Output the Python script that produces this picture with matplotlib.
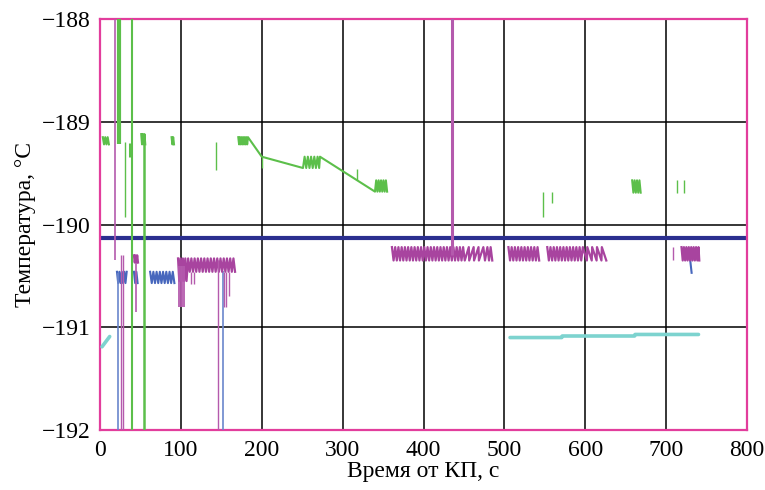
import numpy as np
import matplotlib.pyplot as plt

nan = np.nan

# --- green channel: zigzag blocks and connecting trend ---
green_x = [3.5, 5, 6.5, 8, 9.5, 11, nan,
           51, 52, 53, 54, 55, 56, nan,
           88.5, 89.5, 90.5, 91.5, nan,
           171, 172, 173, 174, 175, 176, 177, 178, 179, 180, 181, 182, 183,
           200, 251, 253, 255, 257, 259, 261, 263, 265, 267, 269, 271, 272,
           318, 340, 341.5, 343, 344.5, 346, 347.5, 349, 350.5, 352, 353.5, 355, nan,
           658, 659.5, 661, 662.5, 664, 665.5, 667, 668.5]
green_y = [-189.15, -189.22, -189.15, -189.22, -189.15, -189.22, nan,
           -189.12, -189.22, -189.12, -189.22, -189.12, -189.22, nan,
           -189.15, -189.22, -189.15, -189.22, nan,
           -189.15, -189.22, -189.15, -189.22, -189.15, -189.22, -189.15, -189.22,
           -189.15, -189.22, -189.15, -189.22, -189.15,
           -189.34, -189.45, -189.34, -189.45, -189.34, -189.45, -189.34,
           -189.45, -189.34, -189.45, -189.34, -189.45, -189.34,
           -189.57, -189.68, -189.57, -189.68, -189.57, -189.68, -189.57, -189.68,
           -189.57, -189.68, -189.57, -189.68, nan,
           -189.57, -189.69, -189.57, -189.69, -189.57, -189.69, -189.57, -189.69]

# green vertical excursions
green_vx = [23.5, 31, 39, 37.5, 54, 143, 200, 318, 548, 559, 713, 722]
green_vtop = [-187.9, -189.2, -187.9, -189.21, -189.12, -189.2, -189.34, -189.46,
              -189.68, -189.68, -189.57, -189.57]
green_vbot = [-189.22, -189.93, -192.1, -189.34, -192.1, -189.47, -189.45, -189.57,
              -189.93, -189.79, -189.69, -189.69]

# --- magenta channel ---
mag_x = [42, 43, 44, 45, 46, 47, nan,
         96.5, 98, 99.5, 101, 102.5, 104, 105.5, 107, 109, 111, 113, 115, 117, 119,
         121, 123, 125, 127, 129, 131, 133, 135, 137, 139, 141, 143, 145, 147, 149,
         151, 153, 155, 157, 159, 161, 163, 165, 167, nan,
         361, 363, 365, 367, 369, 371, 373, 375, 377, 379, 381, 383, 385, 387, 389,
         391, 393, 395, 397, 399, 401, 403, 405, 407, 409, 411, 413, 415, 417, 419,
         421, 423, 425, 427, 429, 431, 433, 435, 437, 439, 441, 443, 445, 447, 449,
         451, 456, 456.5, 462, 462.5, 468, 468.5, 474, 476, 479, 481, 483, 485, nan,
         505, 507, 509, 511, 513, 515, 517, 519, 521, 523, 525, 527, 529, 531, 533,
         535, 537, 539, 541, 543, nan,
         553, 555, 557, 559, 561, 563, 565, 567, 569, 571, 573, 575, 577, 579, 581,
         583, 585, 587, 589, 591, 593, 595, 597, 602, 602.5, 608, 608.5, 614, 614.5,
         620, 620.5, 626, nan,
         719, 720.5, 722, 723.5, 725, 726.5, 728, 729.5, 731, 732.5, 734, 735.5, 737,
         738.5, 740, 741]
mag_y = [-190.3, -190.37, -190.3, -190.37, -190.3, -190.37, nan,
         -190.33, -190.55, -190.33, -190.55, -190.33, -190.55, -190.33, -190.55,
         -190.33, -190.46, -190.33, -190.46, -190.33, -190.46, -190.33, -190.46,
         -190.33, -190.46, -190.33, -190.46, -190.33, -190.46, -190.33, -190.46,
         -190.33, -190.46, -190.33, -190.46, -190.33, -190.46, -190.33, -190.46,
         -190.33, -190.46, -190.33, -190.46, -190.33, -190.46, nan,
         -190.22, -190.35, -190.22, -190.35, -190.22, -190.35, -190.22, -190.35,
         -190.22, -190.35, -190.22, -190.35, -190.22, -190.35, -190.22, -190.35,
         -190.22, -190.35, -190.22, -190.35, -190.22, -190.35, -190.22, -190.35,
         -190.22, -190.35, -190.22, -190.35, -190.22, -190.35, -190.22, -190.35,
         -190.22, -190.35, -190.22, -190.35, -190.22, -190.35, -190.22, -190.35,
         -190.22, -190.35, -190.22, -190.35, -190.22,
         -190.35, -190.22, -190.35, -190.22, -190.35, -190.22, -190.35, -190.22,
         -190.35, -190.22, -190.35, -190.22, -190.35, nan,
         -190.22, -190.35, -190.22, -190.35, -190.22, -190.35, -190.22, -190.35,
         -190.22, -190.35, -190.22, -190.35, -190.22, -190.35, -190.22, -190.35,
         -190.22, -190.35, -190.22, -190.35, nan,
         -190.22, -190.35, -190.22, -190.35, -190.22, -190.35, -190.22, -190.35,
         -190.22, -190.35, -190.22, -190.35, -190.22, -190.35, -190.22, -190.35,
         -190.22, -190.35, -190.22, -190.35, -190.22, -190.35, -190.22,
         -190.35, -190.22, -190.35, -190.22, -190.35, -190.22, -190.35, -190.22,
         -190.35, nan,
         -190.22, -190.35, -190.22, -190.35, -190.22, -190.35, -190.22, -190.35,
         -190.22, -190.35, -190.22, -190.35, -190.22, -190.35, -190.22, -190.35]

mag_vx = [19, 26, 28, 45, 98, 100, 102, 104, 113, 116, 146, 153, 156, 159, 435, 708]
mag_vtop = [-187.9, -190.3, -190.3, -190.37, -190.4, -190.4, -190.4, -190.4,
            -190.46, -190.46, -190.35, -190.46, -190.46, -190.46, -187.9, -190.22]
mag_vbot = [-190.35, -192.1, -192.1, -190.85, -190.8, -190.8, -190.8, -190.8,
            -190.58, -190.58, -192.1, -190.8, -190.8, -190.7, -190.3, -190.35]

# --- blue channel ---
blue_x = [21, 22.5, 24, 25.5, 27, 28.5, 30, 31.5, 33, nan,
          42, 43.5, 45, 46.5, nan,
          62, 64, 66, 68, 70, 72, 74, 76, 78, 80, 82, 84, 86, 88, 90, 92, nan,
          729.5, 730.5, 731.5]
blue_y = [-190.46, -190.57, -190.46, -190.57, -190.46, -190.57, -190.46, -190.57,
          -190.46, nan,
          -190.46, -190.57, -190.46, -190.57, nan,
          -190.46, -190.57, -190.46, -190.57, -190.46, -190.57, -190.46, -190.57,
          -190.46, -190.57, -190.46, -190.57, -190.46, -190.57, -190.46, -190.57, nan,
          -190.33, -190.4, -190.47]
blue_vx = [22, 152]
blue_vtop = [-190.47, -190.45]
blue_vbot = [-192.1, -192.1]

# --- cyan channel ---
cyan_x = [2.5, 12, nan, 507, 571, 571.5, 661, 661.5, 740]
cyan_y = [-191.19, -191.09, nan, -191.1, -191.1, -191.085, -191.085, -191.07, -191.07]

# --- reference level ---
level_x = [0, 800]
level_y = [-190.13, -190.13]

plt.rcParams['font.family'] = ['Liberation Serif', 'DejaVu Serif']

fig = plt.figure(figsize=(7.65, 4.9), dpi=100)
ax = fig.add_axes([0.1307, 0.1224, 0.8458, 0.8388])

ax.plot(level_x, level_y, color='#2b2f8f', lw=3.0, zorder=2)

ax.plot(cyan_x, cyan_y, color='#7dd3cf', lw=2.6, solid_capstyle='round', zorder=3)

ax.plot(blue_x, blue_y, color='#4767bd', lw=1.5, zorder=3)
ax.vlines(blue_vx, blue_vtop, blue_vbot, color='#6a86cc', lw=1.2, zorder=3)

ax.plot(mag_x, mag_y, color='#a8449f', lw=1.6, zorder=4)
ax.vlines(mag_vx, mag_vtop, mag_vbot, color='#b45aad',
          lw=[1.2, 1.0, 1.0, 1.2, 1.3, 1.3, 1.3, 1.3, 1.0, 1.0, 1.0, 1.0, 1.0, 1.0, 2.2, 1.0],
          zorder=4)

ax.plot(green_x, green_y, color='#5cbf4a', lw=1.5, zorder=5)
ax.vlines(green_vx, green_vtop, green_vbot, color='#5cbf4a',
          lw=[3.0, 1.0, 1.5, 2.2, 1.8, 1.0, 1.0, 1.0, 1.0, 1.0, 1.0, 1.0],
          zorder=5)

ax.set_xlim(0, 800)
ax.set_ylim(-192, -188)
ax.set_xticks(range(0, 801, 100))
ax.set_yticks([-192, -191, -190, -189, -188])
ax.set_yticklabels(['\u2212192', '\u2212191', '\u2212190', '\u2212189', '\u2212188'])
ax.grid(True, color='black', lw=1.1, zorder=1)
ax.set_axisbelow(True)
ax.tick_params(length=0, labelsize=17, pad=7, colors='black')

for s in ax.spines.values():
    s.set_color('#e23d9c')
    s.set_linewidth(1.6)

ax.set_xlabel('Время от КП, с', fontsize=17, labelpad=0)
ax.set_ylabel('Температура, °C', fontsize=17, labelpad=4)

fig.savefig('out.png', dpi=100)
